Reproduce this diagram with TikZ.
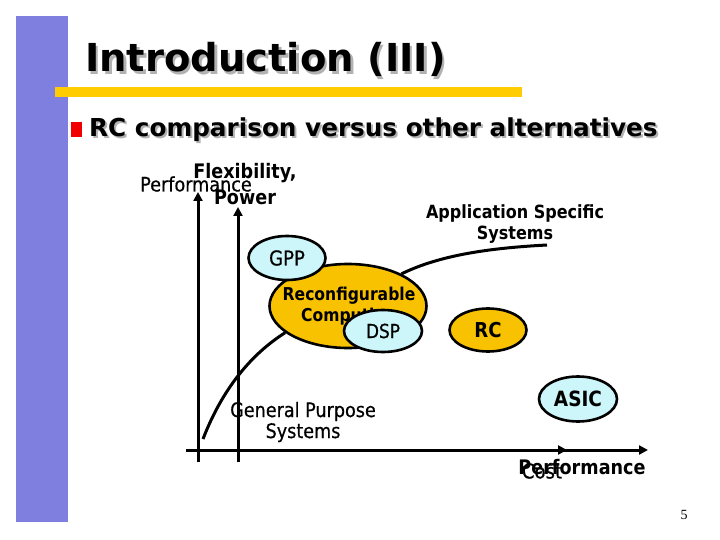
\documentclass[tikz,border=0pt]{standalone}
\usepackage{fontspec}
\setmainfont{DejaVu Sans}
\newfontfamily\chartfont{DejaVu Sans}[FakeStretch=0.88]
\newfontfamily\chartmed{DejaVu Sans}[FakeStretch=0.88, FakeBold=0.5]
\newfontfamily\pagefont{Liberation Serif}
\usetikzlibrary{arrows.meta, positioning, shapes.geometric}

\definecolor{barpurple}{HTML}{7F7FE0}
\definecolor{lineyellow}{HTML}{FFCC00}
\definecolor{bulletred}{HTML}{F00000}
\definecolor{rcorange}{HTML}{F9C200}
\definecolor{chipcyan}{HTML}{CCF6FA}

\begin{document}
\begin{tikzpicture}[x=1pt, y=-1pt,
    heading/.style={anchor=base west, inner sep=0pt, font=\bfseries\fontsize{38.5}{40}\selectfont},
    subheading/.style={anchor=base west, inner sep=0pt, font=\bfseries\fontsize{24.7}{28}\selectfont},
    axis/.style={line width=3pt, -{Triangle[width=9pt, length=9pt]}},
    curve/.style={line width=3pt},
    blob/.style={ellipse, draw, line width=2.6pt, inner sep=0pt, align=center},
    rcblob/.style={blob, fill=rcorange},
    chipblob/.style={blob, fill=chipcyan},
    lbl/.style={inner sep=0pt, align=center, font=\chartmed\fontsize{20}{21}\selectfont},
    blbl/.style={inner sep=0pt, align=center, font=\chartfont\bfseries\fontsize{20}{21}\selectfont}
]
\useasboundingbox (0,0) rectangle (720,540);
\fill[white] (0,0) rectangle (720,540);
\fill[barpurple] (16,16) rectangle (68,522);
\fill[lineyellow] (55,87) rectangle (522,97);
\fill[bulletred] (71,122) rectangle (82,137);

\node[heading, text=black!30] at (87.5,74.5) {Introduction (III)};
\node[heading] (title) at (85,72) {Introduction (III)};
\node[subheading, text=black!30] at (91,139) {RC comparison versus other alternatives};
\node[subheading] (subtitle) at (89,137) {RC comparison versus other alternatives};

\coordinate (perfbase) at (198,462);
\coordinate (perftip) at (198,192);
\coordinate (flexbase) at (238,462);
\coordinate (flextip) at (238,207);
\coordinate (xbase) at (186,450);
\coordinate (perfxtip) at (648,450);
\coordinate (costtip) at (567,450);
\draw[axis] (perfbase) -- (perftip);
\draw[axis] (flexbase) -- (flextip);
\draw[axis] (xbase) -- (perfxtip);
\draw[axis] (xbase) -- (costtip);

\node[rcblob, minimum width=157pt, minimum height=84pt] (rcfg) at (348,306) {};
\node[chipblob, minimum width=77pt, minimum height=44pt] (gpp) at (287,258) {\chartmed\fontsize{20.5}{21}\selectfont GPP};
\node[blbl, font=\chartfont\bfseries\fontsize{17.7}{21}\selectfont] (rcfgtext) at (349,306) {Reconfigurable\\Computing};
\node[chipblob, minimum width=78pt, minimum height=42pt] (dsp) at (383,331) {\chartmed\fontsize{19.3}{21}\selectfont DSP};
\node[rcblob, minimum width=77pt, minimum height=43pt] (rc) at (488,330) {\chartfont\bfseries\fontsize{20.5}{21}\selectfont RC};
\node[chipblob, minimum width=78pt, minimum height=45pt] (asic) at (578,399) {\chartfont\bfseries\fontsize{21}{21}\selectfont ASIC};

\coordinate (gpsend) at (203,439);
\coordinate (asend) at (547,245);
\draw[curve] (gpsend) .. controls (222,390) and (250,355) .. (rcfg.203);
\draw[curve] (rcfg.31) .. controls (440,255) and (490,248) .. (asend);

\node[lbl] (perfy) at (196,184) {Performance};
\node[blbl] (flex) at (245,173) {Flexibility,};
\node[blbl] (power) at (245,197) {Power};
\node[blbl, font=\chartfont\bfseries\fontsize{18.2}{21}\selectfont] (appsys) at (515,224) {Application Specific\\Systems};
\node[lbl] (gensys) at (303,422) {General Purpose\\Systems};
\node[lbl, font=\chartmed\fontsize{20.5}{21}\selectfont] (cost) at (542,471) {Cost};
\node[blbl] (perfx) at (582,467) {Performance};
\node[inner sep=0pt, font=\pagefont\fontsize{14}{16}\selectfont] (pagenum) at (684,515) {5};
\end{tikzpicture}
\end{document}
